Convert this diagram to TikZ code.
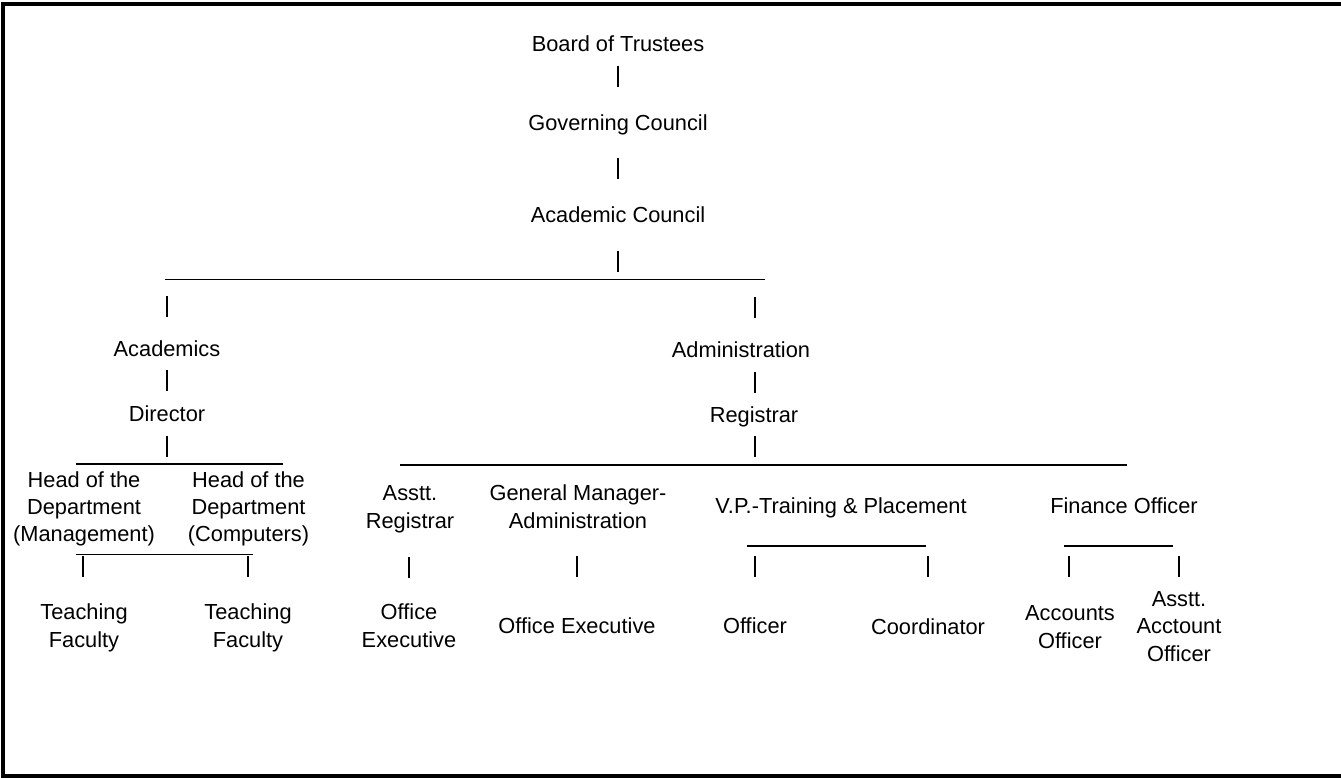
\documentclass[tikz,border=0pt]{standalone}
\usepackage{fontspec}
\setmainfont{Liberation Sans}
\begin{document}
\begin{tikzpicture}[x=1pt,y=-1pt,
  lbl/.style={anchor=base,inner sep=0pt,outer sep=0pt,align=center,
    font=\fontsize{21.8}{27.2}\selectfont},
  vbar/.style={draw=none,fill=black,inner sep=0pt,outer sep=0pt,minimum width=2.8pt,minimum height=21pt,rectangle},
  hline/.style={line width=1.8pt},
  frame/.style={line width=4pt}]
\useasboundingbox (0,0) rectangle (1341,777);
% frame
\coordinate (fbl) at (3.3,777);
\coordinate (ftl) at (3.3,1.5);
\coordinate (ftr) at (1341,3.5);
\coordinate (ftl2) at (1.3,3.5);
\coordinate (fbl2) at (1.3,775.5);
\coordinate (fbr) at (1341,775.5);
\draw[frame] (fbl) -- (ftl);
\draw[frame] (ftl2) -- (ftr);
\draw[frame] (fbl2) -- (fbr);

% labels
\node[lbl] (trustees) at (618,51) {Board of Trustees};
\node[lbl] (council) at (618,130) {Governing Council};
\node[lbl] (academic) at (618,222) {Academic Council};
\node[lbl] (academics) at (167,356) {Academics};
\node[lbl] (admin) at (741,357) {Administration};
\node[lbl] (director) at (167,421) {Director};
\node[lbl] (registrar) at (754,422) {Registrar};
\node[lbl] (hodm) at (84,541.5) {Head of the\\Department\\(Management)};
\node[lbl] (hodc) at (248.5,541.5) {Head of the\\Department\\(Computers)};
\node[lbl] (asreg) at (410,528) {Asstt.\\Registrar};
\node[lbl] (gm) at (578,528) {General Manager-\\Administration};
\node[lbl] (vp) at (841,513) {V.P.-Training \& Placement};
\node[lbl] (fin) at (1124,513) {Finance Officer};
\node[lbl] (tf1) at (84,647) {Teaching\\Faculty};
\node[lbl] (tf2) at (248,647) {Teaching\\Faculty};
\node[lbl] (oe1) at (409,647) {Office\\Executive};
\node[lbl] (oe2) at (577,633) {Office Executive};
\node[lbl] (off) at (755,633) {Officer};
\node[lbl] (coord) at (928,634) {Coordinator};
\node[lbl] (acc) at (1070,648) {Accounts\\Officer};
\node[lbl] (aao) at (1179,661) {Asstt.\\Acctount\\Officer};

% bars
\node[vbar] (b1) at (618,76) {};
\node[vbar] (b2) at (618,168) {};
\node[vbar] (b3) at (618,261) {};
\node[vbar] (b4) at (167,306.5) {};
\node[vbar] (b5) at (755,307.5) {};
\node[vbar] (b6) at (167,380) {};
\node[vbar] (b7) at (755,382) {};
\node[vbar] (b8) at (167,446) {};
\node[vbar] (b9) at (755,446) {};
\node[vbar] (b10) at (83,566) {};
\node[vbar] (b11) at (248,566) {};
\node[vbar] (b12) at (409,567) {};
\node[vbar] (b13) at (577,566) {};
\node[vbar] (b14) at (755,566.5) {};
\node[vbar] (b15) at (928,566.5) {};
\node[vbar] (b16) at (1069,566.5) {};
\node[vbar] (b17) at (1179,566.5) {};

% horizontal lines
\coordinate (h1a) at (165,279.5); \coordinate (h1b) at (765,279.5);
\coordinate (h2a) at (76,464); \coordinate (h2b) at (283,464);
\coordinate (h3a) at (400,465); \coordinate (h3b) at (1127,465);
\coordinate (h4a) at (76,554.5); \coordinate (h4b) at (253,554.5);
\coordinate (h5a) at (747,546); \coordinate (h5b) at (926,546);
\coordinate (h6a) at (1064,546); \coordinate (h6b) at (1173,546);
\draw[hline] (h1a) -- (h1b);
\draw[hline] (h2a) -- (h2b);
\draw[hline] (h3a) -- (h3b);
\draw[hline] (h4a) -- (h4b);
\draw[hline] (h5a) -- (h5b);
\draw[hline] (h6a) -- (h6b);
\end{tikzpicture}
\end{document}
